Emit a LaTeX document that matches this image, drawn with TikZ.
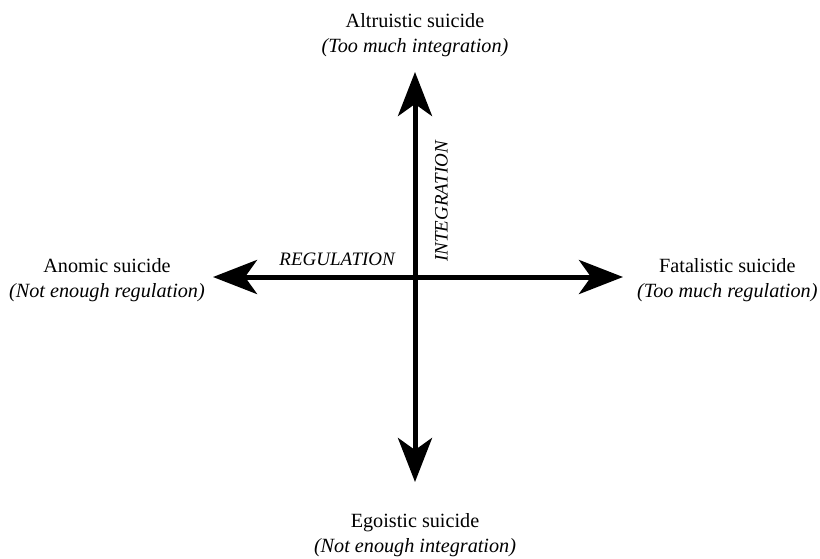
\documentclass[tikz,border=0pt]{standalone}
\usepackage{fontspec}
\setmainfont{Liberation Serif}
\usetikzlibrary{positioning, arrows.meta}
\tikzset{axis/.style={line width=5pt, {Stealth[length=44pt,width=34pt,inset=12pt]}-{Stealth[length=44pt,width=34pt,inset=12pt]}},
type/.style={align=center, font=\fontsize{20.2}{25}\selectfont, inner sep=0pt},
dim/.style={font=\fontsize{19}{22}\selectfont\itshape, inner sep=0pt}
}
\begin{document}
\begin{tikzpicture}[x=1pt, y=-1pt]
\useasboundingbox (0,0) rectangle (820,558);
\coordinate (centre) at (415,277);
\coordinate (top) at (415,72);
\coordinate (bottom) at (415,482);
\coordinate (left) at (213,277);
\coordinate (right) at (623,277);

\draw[axis] (bottom) -- (top);
\draw[axis] (left) -- (right);

\node[dim, anchor=south east] (regulation) at (395,266) {REGULATION};
\node[dim, rotate=90, anchor=south west] (integration) at (448,262) {INTEGRATION};

\node[type, above=15pt of top] (altruistic) {Altruistic suicide\\ \textit{(Too much integration)}};
\node[type, below=31pt of bottom] (egoistic) {Egoistic suicide\\ \textit{(Not enough integration)}};
\node[type, left=8pt of left, yshift=-3pt] (anomic) {Anomic suicide\\ \textit{(Not enough regulation)}};
\node[type, right=14pt of right, yshift=-3pt] (fatalistic) {Fatalistic suicide\\ \textit{(Too much regulation)}};
\end{tikzpicture}
\end{document}
